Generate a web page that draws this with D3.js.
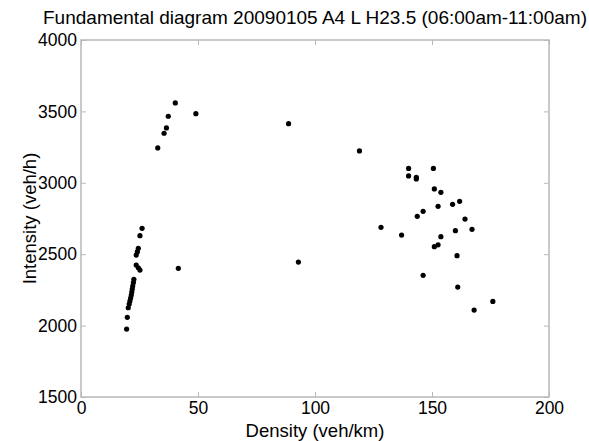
<!DOCTYPE html>
<html>
<head>
<meta charset="utf-8">
<script src="https://cdn.jsdelivr.net/npm/d3@7"></script>
<style>
  html, body { margin: 0; padding: 0; background: #fff; }
  svg { display: block; font-family: "Liberation Sans", Arial, sans-serif; }
</style>
</head>
<body>
<svg id="chart" width="589" height="441"></svg>
<script>
// Data
const density = [
  19.5, 19.8, 20.2, 20.6, 20.9, 21.2, 21.5, 21.7, 21.9, 22.1, 22.4, 22.6,
  23.6, 24.5, 25.2, 23.6, 24.1, 24.5, 25.2, 26.1,
  32.8, 35.5, 36.5, 37.3, 40.3, 41.6, 49.1,
  88.7, 92.9, 119.0, 128.2, 137.0,
  140.0, 140.0, 143.3, 143.3, 143.7, 146.2, 146.2, 150.6, 151.0, 151.0,
  152.6, 152.6, 153.8, 153.8, 158.8, 160.0, 160.7, 161.0, 161.8, 164.1,
  167.1, 168.0, 176.0
];
const intensity = [
  1976, 2058, 2125, 2151, 2172, 2193, 2214, 2235, 2256, 2277, 2301, 2324,
  2424, 2405, 2389, 2494, 2518, 2541, 2630, 2681,
  3244, 3347, 3384, 3466, 3559, 2401, 3484,
  3414, 2445, 3223, 2688, 2634,
  3101, 3048, 3039, 3027, 2765, 2800, 2352, 3101, 2957, 2553,
  2835, 2566, 2933, 2623, 2849, 2665, 2490, 2270, 2870, 2746,
  2674, 2109, 2169
];
const xTicks = [0, 50, 100, 150, 200];
const yTicks = [1500, 2000, 2500, 3000, 3500, 4000];
const titleText = "Fundamental diagram 20090105 A4 L H23.5 (06:00am-11:00am)";
const xLabel = "Density (veh/km)";
const yLabel = "Intensity (veh/h)";

const svg = d3.select("#chart");
const margin = { left: 81, right: 40, top: 40, bottom: 44 };
const W = 589, H = 441;
const x = d3.scaleLinear().domain([0, 200]).range([margin.left, W - margin.right]);
const y = d3.scaleLinear().domain([1500, 4000]).range([H - margin.bottom, margin.top]);

const axisColor = "#b8b8b8";
const fsTick = 17.5;
const fsLabel = 18.5;
const fsTitle = 19;

// Box
svg.append("rect")
  .attr("x", x(0)).attr("y", y(4000))
  .attr("width", x(200) - x(0)).attr("height", y(1500) - y(4000))
  .attr("fill", "none").attr("stroke", axisColor).attr("stroke-width", 1.5);

// Axes with inward ticks
const gx = svg.append("g").attr("transform", `translate(0,${y(1500)})`)
  .call(d3.axisBottom(x).tickValues(xTicks).tickSize(-5).tickPadding(5).tickFormat(d3.format("d")));
const gxTop = svg.append("g").attr("transform", `translate(0,${y(4000)})`)
  .call(d3.axisTop(x).tickValues(xTicks).tickSize(-5).tickFormat(""));
const gy = svg.append("g").attr("transform", `translate(${x(0)},0)`)
  .call(d3.axisLeft(y).tickValues(yTicks).tickSize(-5).tickPadding(4).tickFormat(d3.format("d")));
const gyR = svg.append("g").attr("transform", `translate(${x(200)},0)`)
  .call(d3.axisRight(y).tickValues(yTicks).tickSize(-5).tickFormat(""));

[gx, gxTop, gy, gyR].forEach(g => {
  g.select(".domain").remove();
  g.selectAll(".tick line").attr("stroke", axisColor).attr("stroke-width", 1);
  g.selectAll("text").attr("fill", "#000").attr("font-size", fsTick)
    .attr("font-family", "'Liberation Sans', Arial, sans-serif");
});
gx.selectAll("text").attr("dy", "0.71em");
gy.selectAll("text").attr("dy", "0.32em");

// Points
svg.append("g").selectAll("circle")
  .data(density.map((d, i) => [d, intensity[i]]))
  .join("circle")
  .attr("cx", d => x(d[0]))
  .attr("cy", d => y(d[1]))
  .attr("r", 2.6)
  .attr("fill", "#000");

// Title
svg.append("text")
  .attr("x", (x(0) + x(200)) / 2).attr("y", 24)
  .attr("text-anchor", "middle").attr("font-size", fsTitle)
  .text(titleText);

// X label
svg.append("text")
  .attr("x", (x(0) + x(200)) / 2).attr("y", 437)
  .attr("text-anchor", "middle").attr("font-size", fsLabel)
  .text(xLabel);

// Y label
svg.append("text")
  .attr("transform", `translate(36,${(y(1500) + y(4000)) / 2}) rotate(-90)`)
  .attr("text-anchor", "middle").attr("font-size", fsLabel)
  .text(yLabel);
</script>
</body>
</html>
